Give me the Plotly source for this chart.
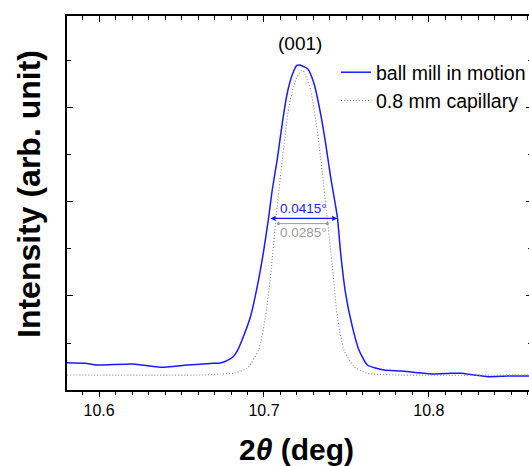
import plotly.graph_objects as go

# --- data ---
ball_mill_x = [10.5805, 10.5915, 10.5988, 10.6207, 10.6371, 10.6535, 10.6693, 10.6736,
               10.6778, 10.6816, 10.6842, 10.6867, 10.6918, 10.6959, 10.6999, 10.7029, 10.7050,
               10.7080, 10.7111, 10.7141, 10.7171, 10.7199, 10.7218, 10.7266, 10.7303,
               10.7343, 10.7374, 10.7404, 10.7445, 10.7465, 10.7495, 10.7536, 10.7576,
               10.7627, 10.7728, 10.7830, 10.7931, 10.8030, 10.8134, 10.8195, 10.8274,
               10.8359, 10.8478, 10.8559, 10.8626]
ball_mill_y = [0.581, 0.568, 0.532, 0.553, 0.483, 0.532, 0.568, 0.575,
               0.630, 0.720, 0.860, 1.064, 1.560, 2.198, 2.979, 3.687, 4.255,
               4.894, 5.674, 6.313, 6.700, 6.905, 6.915, 6.830, 6.526,
               5.887, 5.249, 4.538, 3.687, 2.915, 2.057, 1.347, 0.851,
               0.532, 0.426, 0.404, 0.368, 0.340, 0.355, 0.355, 0.319,
               0.283, 0.298, 0.298, 0.298]

capillary_x = [10.5805, 10.6614, 10.6736, 10.6816, 10.6898, 10.6968, 10.7009, 10.7040,
               10.7070, 10.7080, 10.7111, 10.7151, 10.7192, 10.7228, 10.7242, 10.7283,
               10.7323, 10.7354, 10.7380, 10.7415, 10.7445, 10.7485, 10.7546, 10.7627,
               10.7830, 10.8626]
capillary_y = [0.319, 0.319, 0.340, 0.355, 0.462, 0.851, 1.560, 2.411,
               3.547, 3.900, 4.894, 6.028, 6.596, 6.800, 6.772, 6.383,
               5.532, 4.617, 3.766, 2.623, 1.560, 0.851, 0.496, 0.355,
               0.319, 0.319]

series_names = ["ball mill in motion", "0.8 mm capillary"]
fwhm_labels = ["0.0415°", "0.0285°"]
fwhm_left = [10.7030, 10.7080]
fwhm_right = [10.7445, 10.7384]
fwhm_level = [3.65, 3.54]
peak_label = "(001)"
x_ticks = [10.6, 10.7, 10.8]

FONT = "Liberation Sans, Arial, sans-serif"
BLUE = "#1a1aff"
GRAY = "#8c8c8c"

fig = go.Figure()
fig.add_trace(go.Scatter(x=ball_mill_x, y=ball_mill_y, mode="lines", name=series_names[0],
                         line=dict(color=BLUE, width=1.5, shape="spline", smoothing=0.5)))
fig.add_trace(go.Scatter(x=capillary_x, y=capillary_y, mode="lines", name=series_names[1],
                         line=dict(color=GRAY, width=1.1, dash="1px,2px", shape="spline", smoothing=0.5)))
# helper trace so that the mirrored (top/right) axes are drawn
fig.add_trace(go.Scatter(x=ball_mill_x, y=ball_mill_y, xaxis="x2", yaxis="y2", mode="lines",
                         line=dict(width=0), opacity=0, showlegend=False, hoverinfo="skip"))

xr = [10.5805, 10.8626]
yr = [0, 7.957]
PW = 465  # plot-area width in px (the right frame lies just past the window edge)

fig.update_layout(
    width=532, height=466,
    margin=dict(l=67, r=0, t=16, b=76, autoexpand=False),
    paper_bgcolor="white", plot_bgcolor="white",
    font=dict(family=FONT, color="black", size=16),
    showlegend=True,
    legend=dict(x=(336 - 67) / PW, y=0.901, xanchor="left", yanchor="top",
                bgcolor="rgba(0,0,0,0)", font=dict(size=19.5, family=FONT),
                tracegroupgap=0),
    xaxis=dict(range=xr, showgrid=False, zeroline=False, showline=True, linecolor="black",
               linewidth=1.5, ticks="outside", ticklen=5, tickwidth=1.3, tickcolor="black",
               tickvals=x_ticks, ticktext=[f"{v:.1f}" for v in x_ticks],
               tickfont=dict(size=16, family=FONT),
               minor=dict(ticks="outside", ticklen=3.5, tickwidth=1, dtick=0.01, tick0=10.6,
                          tickcolor="black", showgrid=False)),
    xaxis2=dict(range=xr, overlaying="x", side="top", anchor="y", matches="x", showgrid=False,
                zeroline=False, showline=True, linecolor="black", linewidth=1.5,
                ticks="inside", ticklen=6, tickwidth=1.3, tickcolor="black",
                tickvals=x_ticks, showticklabels=False,
                minor=dict(ticks="inside", ticklen=4, tickwidth=1, dtick=0.01, tick0=10.6,
                           tickcolor="black", showgrid=False)),
    yaxis=dict(range=yr, showgrid=False, zeroline=False, showline=True, linecolor="black",
               linewidth=1.5, ticks="inside", ticklen=6, tickwidth=1.3, tickcolor="black",
               dtick=2, tick0=0, showticklabels=False,
               minor=dict(ticks="inside", ticklen=4, tickwidth=1, dtick=1, tick0=0,
                          tickcolor="black", showgrid=False)),
    yaxis2=dict(range=yr, overlaying="y", side="right", anchor="x", matches="y", showgrid=False,
                zeroline=False, showline=True, linecolor="black", linewidth=1.5,
                ticks="inside", ticklen=6, tickwidth=1.3, tickcolor="black",
                dtick=2, tick0=0, showticklabels=False,
                minor=dict(ticks="inside", ticklen=4, tickwidth=1, dtick=1, tick0=0,
                           tickcolor="black", showgrid=False)),
)

# peak label
fig.add_annotation(x=ball_mill_x[ball_mill_y.index(max(ball_mill_y))], y=7.38, text=peak_label,
                   showarrow=False, font=dict(size=19, family=FONT, color="black"))

# FWHM arrows and labels
colors = [BLUE, "#9a9a9a"]
label_offsets = [0.21, -0.19]
for i in range(2):
    fig.add_annotation(x=fwhm_right[i], y=fwhm_level[i], ax=fwhm_left[i], ay=fwhm_level[i],
                       xref="x", yref="y", axref="x", ayref="y", text="", showarrow=True,
                       arrowhead=2 if i == 0 else 6, startarrowhead=2 if i == 0 else 6,
                       arrowside="end+start", arrowsize=0.8, startarrowsize=0.8,
                       arrowwidth=1.3 if i == 0 else 1.0, arrowcolor=colors[i])
    fig.add_annotation(x=(fwhm_left[i] + fwhm_right[i]) / 2 + 0.0005,
                       y=fwhm_level[i] + label_offsets[i], text=fwhm_labels[i],
                       showarrow=False, font=dict(size=13.5, family=FONT, color=colors[i]))

# axis titles
fig.add_annotation(xref="paper", yref="paper", x=(296 - 67) / PW, y=(390 - 449) / 374,
                   text="<b>2<i>θ</i> (deg)</b>", showarrow=False,
                   xanchor="center", yanchor="middle", font=dict(size=30, family=FONT, color="black"))
fig.add_annotation(xref="paper", yref="paper", x=(29 - 67) / PW, y=(390 - 194) / 374,
                   text="<b>Intensity (arb. unit)</b>", showarrow=False, textangle=-90,
                   xanchor="center", yanchor="middle", font=dict(size=32, family=FONT, color="black"))

# remove the default page margin so the figure sits at the window's top-left corner
fig.write_html("out.html", config={"displayModeBar": False},
               post_script="document.body.style.margin='0';document.body.style.overflow='hidden';")
